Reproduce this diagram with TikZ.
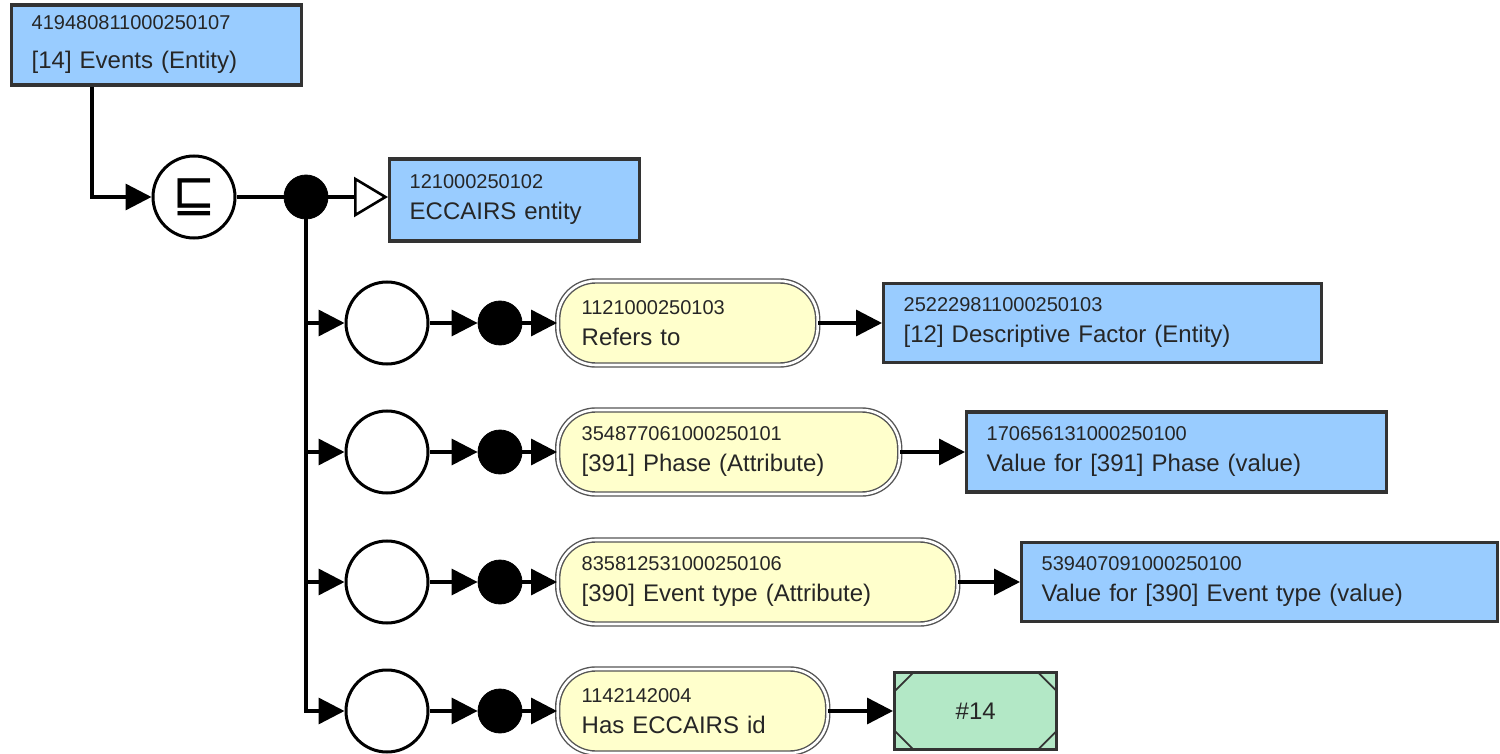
\documentclass[tikz,border=0pt]{standalone}
\usepackage{fontspec}
\setmainfont{Liberation Sans}
\newfontfamily\dejavu{DejaVu Sans}
\usetikzlibrary{arrows.meta,calc}
\definecolor{boxblue}{HTML}{99CCFF}
\definecolor{bordergray}{HTML}{333333}
\definecolor{pillfill}{HTML}{FFFFCC}
\definecolor{valgreen}{HTML}{B3E8C6}
\definecolor{pillborder}{HTML}{555555}
\newcommand{\nm}[1]{{\fontsize{10}{15.5}\selectfont #1}}
\newcommand{\nmw}[1]{{\fontsize{10}{19.5}\selectfont #1}}
\begin{document}
\begin{tikzpicture}[x=0.5pt,y=-0.5pt,
  ent/.style={draw=bordergray, fill=boxblue, line width=1.7pt, rectangle, anchor=west,
    align=left, inner xsep=10pt, inner ysep=0pt, text=black!85,
    font=\fontsize{12}{15.5}\selectfont},
  pill/.style={draw=pillborder, fill=pillfill, line width=0.7pt, double=white,
    double distance=1.3pt, rounded corners=19pt, rectangle, anchor=west,
    align=left, inner xsep=12pt, inner ysep=0pt, minimum height=42pt, text=black!85,
    font=\fontsize{12}{15.5}\selectfont},
  hub/.style={circle, draw=black, line width=1.5pt, fill=white, minimum size=41pt, inner sep=0pt},
  dot/.style={circle, fill=black, draw=black, minimum size=22pt, inner sep=0pt},
  conn/.style={draw=black, line width=1.7pt},
  arr/.style={-{Triangle[length=13pt,width=13pt]}},
]
\useasboundingbox (0,0) rectangle (1500,754);

% top entity
\node[ent, minimum width=145pt, minimum height=40pt, text width=125pt,
  font=\fontsize{12}{19.5}\selectfont] (top) at (10,45)
  {\nmw{419480811000250107}\\{[14] Events (Entity)}};

% subsumption
\node[hub] (sub) at (194,197) {\dejavu\fontsize{26}{26}\selectfont ⊑};
\node[dot] (d0) at (306,197) {};
\node[ent, minimum width=125pt, minimum height=41pt, text width=105pt] (ecc) at (388,200)
  {\nm{121000250102}\\ECCAIRS entity};

% row circles and dots
\node[hub] (c1) at (387,323) {};
\node[hub] (c2) at (387,452) {};
\node[hub] (c3) at (387,582) {};
\node[hub] (c4) at (387,711) {};
\node[dot] (d1) at (500,323) {};
\node[dot] (d2) at (500,452) {};
\node[dot] (d3) at (500,582) {};
\node[dot] (d4) at (500,711) {};

% pills
\node[pill, minimum width=130pt, text width=106pt] (p1) at (557,323)
  {\nm{1121000250103}\\Refers to};
\node[pill, minimum width=171pt, text width=147pt] (p2) at (557,452)
  {\nm{354877061000250101}\\{[391] Phase (Attribute)}};
\node[pill, minimum width=200pt, text width=176pt] (p3) at (557,582)
  {\nm{835812531000250106}\\{[390] Event type (Attribute)}};
\node[pill, minimum width=135pt, text width=111pt] (p4) at (557,711)
  {\nm{1142142004}\\Has ECCAIRS id};

% value boxes
\node[ent, minimum width=219pt, minimum height=39.5pt, text width=199pt] (v1) at (882,323)
  {\nm{252229811000250103}\\{[12] Descriptive Factor (Entity)}};
\node[ent, minimum width=210pt, minimum height=40pt, text width=190pt] (v2) at (965,452)
  {\nm{170656131000250100}\\{Value for [391] Phase (value)}};
\node[ent, minimum width=238pt, minimum height=39.5pt, text width=218pt] (v3) at (1020,582)
  {\nm{539407091000250100}\\{Value for [390] Event type (value)}};
\node[draw=bordergray, fill=valgreen, line width=1.7pt, rectangle, anchor=west,
  minimum width=81pt, minimum height=38.5pt, text=black!85,
  font=\fontsize{12}{14}\selectfont] (v4) at (893,711) {\#14};
\draw[draw=bordergray, line width=0.9pt]
  ($(v4.north west)+(2,20)$) -- ($(v4.north west)+(20,2)$)
  ($(v4.north east)+(-2,20)$) -- ($(v4.north east)+(-20,2)$)
  ($(v4.south west)+(2,-20)$) -- ($(v4.south west)+(20,-2)$)
  ($(v4.south east)+(-2,-20)$) -- ($(v4.south east)+(-20,-2)$);

% connectors
\draw[conn, arr] ($(top.south west)+(82,0)$) |- (sub.west);
\draw[conn] (sub.east) -- (d0.west);
\draw[conn, -{Triangle[open, length=17pt, width=20pt, fill=white, line width=1.3pt]}] (d0.east) -- (ecc.west |- d0.east);
\draw[conn, arr] (d0.south) |- (c4.west);
\foreach \i in {1,2,3} {
  \draw[conn, arr] (d0 |- c\i.west) -- (c\i.west);
}
\foreach \i in {1,2,3,4} {
  \draw[conn, arr] (c\i.east) -- (d\i.west);
  \draw[conn, arr] (d\i.east) -- (p\i.west);
  \draw[conn, arr] (p\i.east) -- (v\i.west);
}
\end{tikzpicture}
\end{document}
